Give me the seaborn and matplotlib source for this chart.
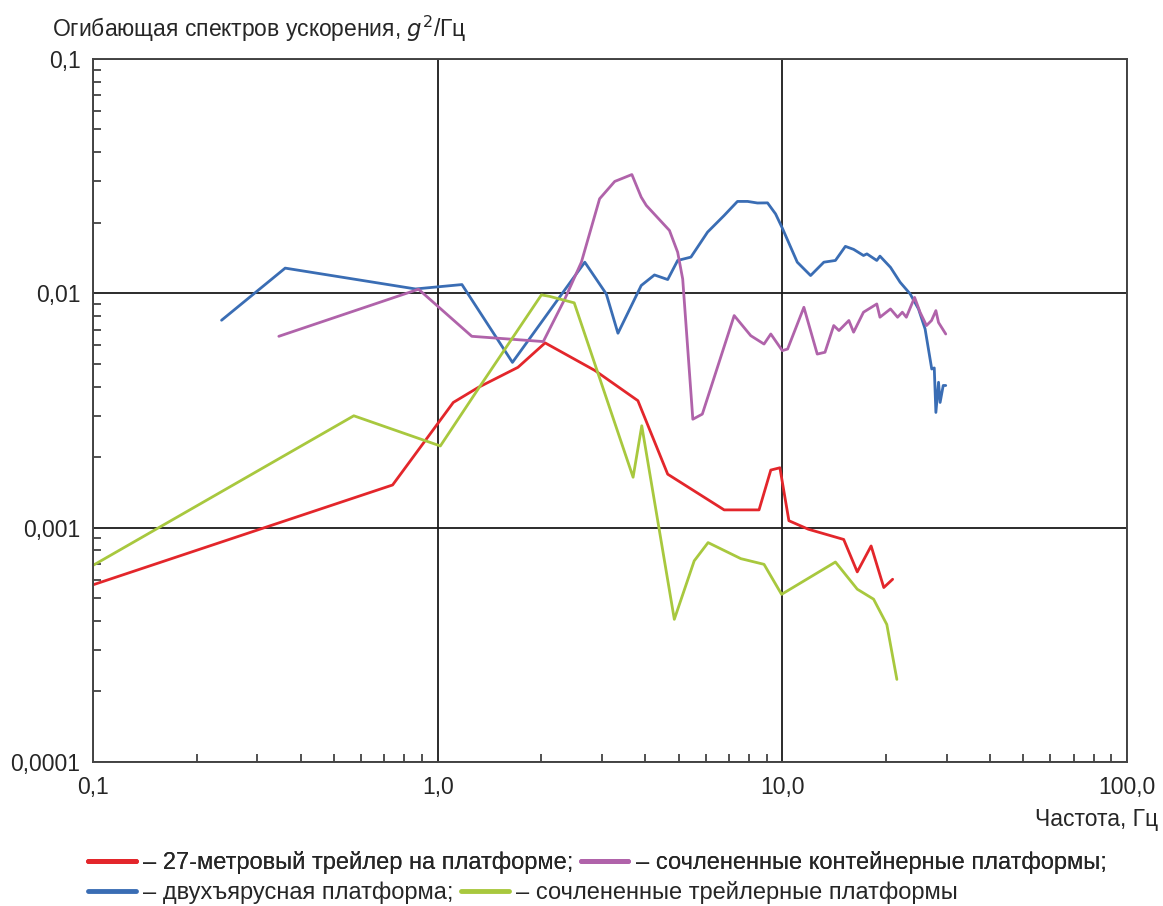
import numpy as np
import pandas as pd
import matplotlib
matplotlib.use("Agg")
import matplotlib.pyplot as plt
from matplotlib.lines import Line2D
import seaborn as sns

# --- data (log-log chart) ---
red_f = [0.1, 0.74, 1.11, 1.31, 1.71, 2.05, 2.86, 3.81, 4.65, 6.78, 8.56, 9.26, 9.84, 10.45, 11.9, 15.07, 16.5, 18.1, 19.7, 20.9]
red_g = [0.00057, 0.00152, 0.00342, 0.00396, 0.00483, 0.00614, 0.00468, 0.00348, 0.00169, 0.00119, 0.00119, 0.00176, 0.0018,
         0.00107, 0.000984, 0.00089, 0.000647, 0.000835, 0.000555, 0.000602]

blue_f = [0.236, 0.361, 0.862, 1.176, 1.648, 2.672, 3.085, 3.335, 3.896, 4.256, 4.65, 4.97, 5.43, 6.07, 6.78, 7.41, 7.93,
          8.47, 9.06, 9.56, 10.0, 11.05, 12.08, 13.2, 14.26, 15.24, 16.1, 17.2, 17.6, 18.8, 19.2, 20.6, 21.97, 23.5, 24.84,
          25.96, 27.14, 27.6, 27.9, 28.4, 28.7, 29.3, 29.8]
blue_g = [0.00767, 0.0128, 0.01043, 0.01089, 0.00507, 0.01357, 0.00993, 0.00675, 0.01079, 0.01197, 0.01144, 0.0138, 0.01426,
          0.01824, 0.02147, 0.02465, 0.02465, 0.02427, 0.0243, 0.0218, 0.01897, 0.01357, 0.0119, 0.01357, 0.0138, 0.01585,
          0.01539, 0.01449, 0.01472, 0.0138, 0.0144, 0.0129, 0.01114, 0.00993, 0.00857, 0.00704, 0.00475, 0.0048, 0.0031,
          0.00417, 0.00342, 0.00404, 0.00404]

purple_f = [0.346, 0.88, 1.256, 2.025, 2.339, 2.612, 2.95, 3.264, 3.66, 3.896, 4.03, 4.705, 4.97, 5.14, 5.5, 5.86, 7.25, 8.1,
            8.85, 9.26, 10.0, 10.36, 11.55, 12.63, 13.3, 14.1, 14.6, 15.6, 16.1, 17.2, 18.8, 19.2, 20.6, 21.6, 22.3, 22.9,
            24.2, 25.1, 26.2, 27.1, 27.9, 28.4, 29.8]
purple_g = [0.00655, 0.0104, 0.00655, 0.00622, 0.00946, 0.01357, 0.0253, 0.030, 0.0321, 0.0257, 0.0237, 0.01853, 0.01496,
            0.0115, 0.0029, 0.00305, 0.00803, 0.00659, 0.00607, 0.0067, 0.00569, 0.00578, 0.00871, 0.0055, 0.0056, 0.00728,
            0.00693, 0.00765, 0.00682, 0.0083, 0.009, 0.0079, 0.00857, 0.0079, 0.0083, 0.0079, 0.0096, 0.0083, 0.00728,
            0.00765, 0.00843, 0.0075, 0.0067]

green_f = [0.1, 0.571, 1.018, 1.31, 2.0, 2.11, 2.49, 3.69, 3.91, 4.86, 5.55, 6.09, 7.58, 8.85, 9.95, 14.26, 16.5, 18.4, 20.1, 21.5]
green_g = [0.00069, 0.003, 0.00223, 0.0039, 0.00984, 0.0097, 0.0091, 0.00164, 0.00272, 0.000406, 0.000721, 0.000863,
           0.000737, 0.000697, 0.000519, 0.000713, 0.000546, 0.000495, 0.000386, 0.000225]

names = ["27-метровый трейлер на платформе", "двухъярусная платформа",
         "сочлененные контейнерные платформы", "сочлененные трейлерные платформы"]
colors = ["#e3262b", "#3a6db4", "#b063aa", "#a8c83e"]

x_ticks = [0.1, 1.0, 10.0, 100.0]
x_labels = ["0,1", "1,0", "10,0", "100,0"]
y_ticks = [0.0001, 0.001, 0.01, 0.1]
y_labels = ["0,0001", "0,001", "0,01", "0,1"]

frames = []
for name, f, g in zip(names, [red_f, blue_f, purple_f, green_f], [red_g, blue_g, purple_g, green_g]):
    frames.append(pd.DataFrame({"f": f, "g": g, "series": name}))
df = pd.concat(frames, ignore_index=True)

sns.set_style("white")
plt.rcParams["font.family"] = ["Liberation Sans", "DejaVu Sans"]

fig = plt.figure(figsize=(11.63, 9.06), dpi=100)
ax = fig.add_axes([0.080, 0.159, 0.889, 0.776])

sns.lineplot(data=df, x="f", y="g", hue="series", palette=dict(zip(names, colors)),
             sort=False, estimator=None, linewidth=2.0, legend=False, ax=ax)

ax.set_xscale("log")
ax.set_yscale("log")
ax.set_xlim(0.1, 100)
ax.set_ylim(0.0001, 0.1)
ax.set_xticks(x_ticks, x_labels)
ax.set_yticks(y_ticks, y_labels)
ax.tick_params(which="major", direction="out", length=6, width=1.2, color="#333333", labelsize=16.5, pad=3)
ax.tick_params(axis="x", which="major", pad=4)
ax.tick_params(which="minor", direction="in", length=6, width=1.2, color="#333333")
ax.tick_params(axis="x", which="minor", bottom=True)
ax.tick_params(axis="y", which="minor", left=True)
ax.xaxis.set_minor_formatter(plt.NullFormatter())
ax.yaxis.set_minor_formatter(plt.NullFormatter())
ax.grid(True, which="major", color="#1a1a1a", linewidth=1.3)
ax.grid(False, which="minor")
for s in ax.spines.values():
    s.set_color("#444444")
    s.set_linewidth(1.4)
ax.set_xlabel("")
ax.set_ylabel("")

fig.text(0.045, 0.968, "Огибающая спектров ускорения, $g^2$/Гц", fontsize=16.5, ha="left", va="center")
fig.text(0.996, 0.095, "Частота, Гц", fontsize=16.5, ha="right", va="center")

h = [Line2D([], [], color=c, linewidth=3.5) for c in colors]
leg_kw = dict(ncol=2, frameon=False, fontsize=17, handlelength=2.0, handletextpad=0.3,
              columnspacing=0.35, borderpad=0, borderaxespad=0)
leg1 = fig.legend([h[0], h[2]], ["– " + names[0] + ";", "– " + names[2] + ";"],
                  loc="center left", bbox_to_anchor=(0.076, 0.048), **leg_kw)
fig.add_artist(leg1)
fig.legend([h[1], h[3]], ["– " + names[1] + ";", "– " + names[3]],
           loc="center left", bbox_to_anchor=(0.076, 0.015), **leg_kw)

fig.savefig("out.png", dpi=100, facecolor="white")
